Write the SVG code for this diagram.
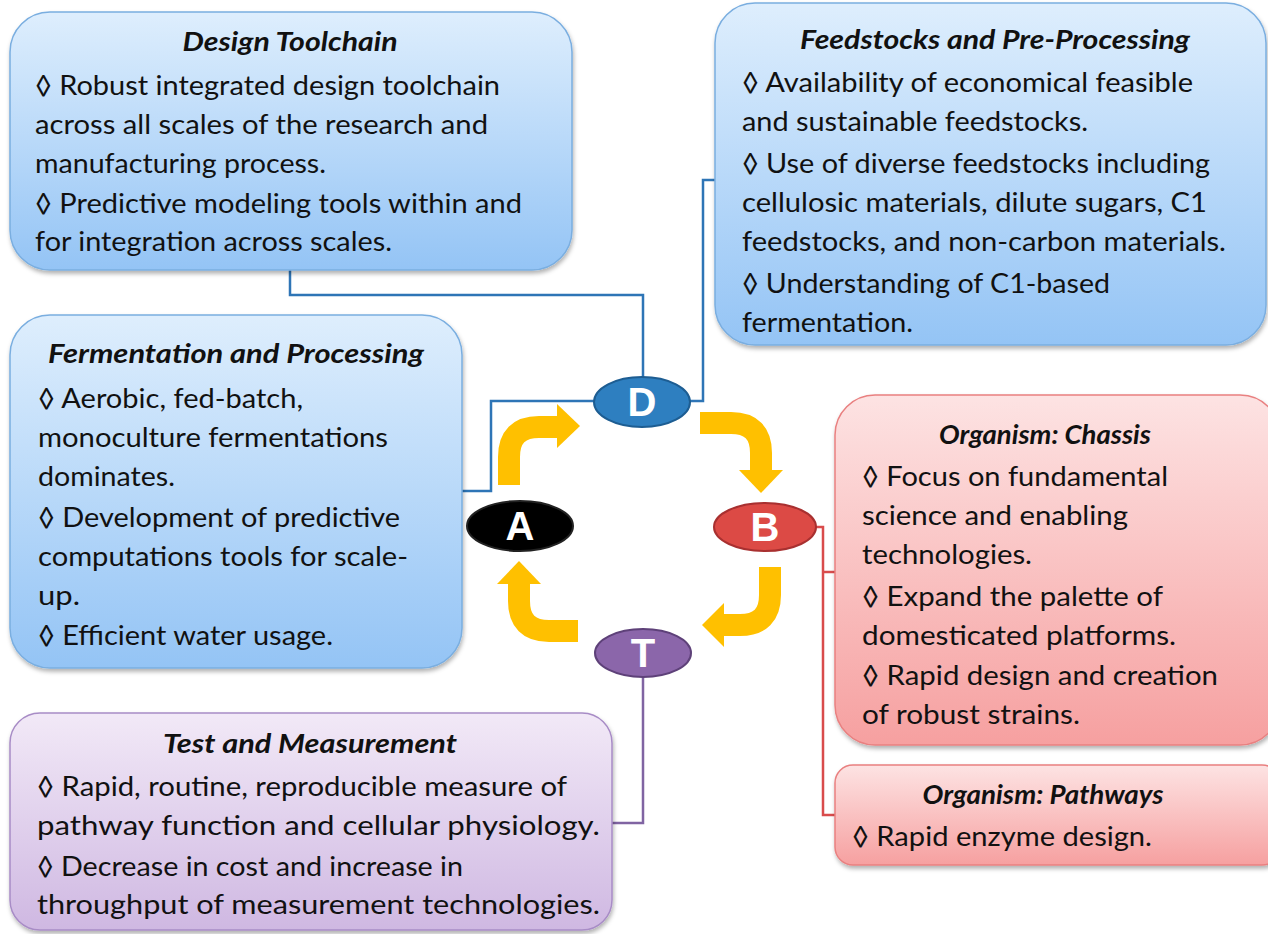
<svg xmlns="http://www.w3.org/2000/svg" width="1268" height="934" viewBox="0 0 1268 934">
<defs>
<linearGradient id="gBlue" x1="0" y1="0" x2="0" y2="1"><stop offset="0" stop-color="#deeefd"/><stop offset="1" stop-color="#94c4f5"/></linearGradient>
<linearGradient id="gRed" x1="0" y1="0" x2="0" y2="1"><stop offset="0" stop-color="#fde3e3"/><stop offset="1" stop-color="#f6a0a0"/></linearGradient>
<linearGradient id="gPurple" x1="0" y1="0" x2="0" y2="1"><stop offset="0" stop-color="#f2e9f7"/><stop offset="1" stop-color="#cfb8e2"/></linearGradient>
<filter id="sh" x="-5%" y="-5%" width="110%" height="115%"><feDropShadow dx="1" dy="3" stdDeviation="2" flood-color="#000" flood-opacity="0.3"/></filter>
</defs>
<style>
.box{stroke-width:1.5;filter:url(#sh)}
.blue{fill:url(#gBlue);stroke:#7aaee0}
.red{fill:url(#gRed);stroke:#e98080}
.purple{fill:url(#gPurple);stroke:#a88cc6}
.t{font-family:Lato,"Liberation Sans",sans-serif;font-size:27px;font-weight:bold;font-style:italic;fill:#111;text-anchor:middle}
.b{font-family:Lato,"Liberation Sans",sans-serif;font-size:26px;fill:#111}
.lbl{font-family:"Liberation Sans",Arial,sans-serif;font-size:40px;font-weight:bold;fill:#fff;text-anchor:middle}
.cb{fill:none;stroke:#2e75b6;stroke-width:2.5}
.cr{fill:none;stroke:#d94c4c;stroke-width:2.5}
.cp{fill:none;stroke:#8064a2;stroke-width:2.5}
.arr{fill:none;stroke:#ffc000;stroke-width:22}
.ah{fill:#ffc000}
</style>
<rect width="1268" height="934" fill="#fff"/>

<g id="connectors">
<path class="cb" d="M290,270 V295 H643 V377"/>
<path class="cb" d="M715,180 H703 V401 H690"/>
<path class="cb" d="M462,491 H491 V401 H595"/>
<path class="cr" d="M816,527 H823 V815 H835 M823,572 H835"/>
<path class="cp" d="M643,677 V823 H612"/>
<path class="arr" d="M509,485 V457 Q509,427 539,427 H558"/>
<polygon class="ah" points="557,404 580,426 557,448"/>
<path class="arr" d="M700,423 H731 Q761,423 761,453 V471"/>
<polygon class="ah" points="739,470 783,470 761,493"/>
<path class="arr" d="M770,567 V595 Q770,625 740,625 H723"/>
<polygon class="ah" points="724,603 702,625 724,647"/>
<path class="arr" d="M578,631 H549 Q519,631 519,601 V583"/>
<polygon class="ah" points="497,584 519,561 541,584"/>
</g>

<g id="node-design-toolchain">
<rect class="box blue" x="10" y="12" width="562" height="258" rx="40"/>
<text class="t" x="290" y="51" textLength="215" lengthAdjust="spacingAndGlyphs">Design Toolchain</text>
<text class="b" x="35" y="95" textLength="465" lengthAdjust="spacingAndGlyphs">◊ Robust integrated design toolchain</text>
<text class="b" x="35" y="134" textLength="453" lengthAdjust="spacingAndGlyphs">across all scales of the research and</text>
<text class="b" x="35" y="173" textLength="291" lengthAdjust="spacingAndGlyphs">manufacturing process.</text>
<text class="b" x="35" y="213" textLength="487" lengthAdjust="spacingAndGlyphs">◊ Predictive modeling tools within and</text>
<text class="b" x="35" y="251" textLength="357" lengthAdjust="spacingAndGlyphs">for integration across scales.</text>
</g>

<g id="node-feedstocks">
<rect class="box blue" x="715" y="3" width="551" height="342" rx="40"/>
<text class="t" x="995" y="49" textLength="390" lengthAdjust="spacingAndGlyphs">Feedstocks and Pre-Processing</text>
<text class="b" x="742" y="92" textLength="451" lengthAdjust="spacingAndGlyphs">◊ Availability of economical feasible</text>
<text class="b" x="742" y="131" textLength="346" lengthAdjust="spacingAndGlyphs">and sustainable feedstocks.</text>
<text class="b" x="742" y="173" textLength="468" lengthAdjust="spacingAndGlyphs">◊ Use of diverse feedstocks including</text>
<text class="b" x="742" y="212" textLength="465" lengthAdjust="spacingAndGlyphs">cellulosic materials, dilute sugars, C1</text>
<text class="b" x="742" y="251" textLength="484" lengthAdjust="spacingAndGlyphs">feedstocks, and non-carbon materials.</text>
<text class="b" x="742" y="293" textLength="368" lengthAdjust="spacingAndGlyphs">◊ Understanding of C1-based</text>
<text class="b" x="742" y="332" textLength="171" lengthAdjust="spacingAndGlyphs">fermentation.</text>
</g>

<g id="node-fermentation">
<rect class="box blue" x="10" y="315" width="452" height="353" rx="40"/>
<text class="t" x="236" y="363" textLength="376" lengthAdjust="spacingAndGlyphs">Fermentation and Processing</text>
<text class="b" x="38" y="408" textLength="265" lengthAdjust="spacingAndGlyphs">◊ Aerobic, fed-batch,</text>
<text class="b" x="38" y="447" textLength="350" lengthAdjust="spacingAndGlyphs">monoculture fermentations</text>
<text class="b" x="38" y="486" textLength="137" lengthAdjust="spacingAndGlyphs">dominates.</text>
<text class="b" x="38" y="527" textLength="362" lengthAdjust="spacingAndGlyphs">◊ Development of predictive</text>
<text class="b" x="38" y="566" textLength="370" lengthAdjust="spacingAndGlyphs">computations tools for scale-</text>
<text class="b" x="38" y="605" textLength="42" lengthAdjust="spacingAndGlyphs">up.</text>
<text class="b" x="38" y="645" textLength="295" lengthAdjust="spacingAndGlyphs">◊ Efficient water usage.</text>
</g>

<g id="node-chassis">
<rect class="box red" x="835" y="395" width="445" height="350" rx="40"/>
<text class="t" x="1045" y="444" textLength="212" lengthAdjust="spacingAndGlyphs">Organism: Chassis</text>
<text class="b" x="862" y="486" textLength="306" lengthAdjust="spacingAndGlyphs">◊ Focus on fundamental</text>
<text class="b" x="862" y="525" textLength="266" lengthAdjust="spacingAndGlyphs">science and enabling</text>
<text class="b" x="862" y="564" textLength="170" lengthAdjust="spacingAndGlyphs">technologies.</text>
<text class="b" x="862" y="606" textLength="301" lengthAdjust="spacingAndGlyphs">◊ Expand the palette of</text>
<text class="b" x="862" y="645" textLength="314" lengthAdjust="spacingAndGlyphs">domesticated platforms.</text>
<text class="b" x="862" y="685" textLength="356" lengthAdjust="spacingAndGlyphs">◊ Rapid design and creation</text>
<text class="b" x="862" y="724" textLength="218" lengthAdjust="spacingAndGlyphs">of robust strains.</text>
</g>

<g id="node-pathways">
<rect class="box red" x="835" y="765" width="445" height="100" rx="18"/>
<text class="t" x="1043" y="804" textLength="241" lengthAdjust="spacingAndGlyphs">Organism: Pathways</text>
<text class="b" x="852" y="846" textLength="300" lengthAdjust="spacingAndGlyphs">◊ Rapid enzyme design.</text>
</g>

<g id="node-test">
<rect class="box purple" x="10" y="713" width="602" height="217" rx="30"/>
<text class="t" x="310" y="753" textLength="294" lengthAdjust="spacingAndGlyphs">Test and Measurement</text>
<text class="b" x="37" y="796" textLength="530" lengthAdjust="spacingAndGlyphs">◊ Rapid, routine, reproducible measure of</text>
<text class="b" x="37" y="835" textLength="563" lengthAdjust="spacingAndGlyphs">pathway function and cellular physiology.</text>
<text class="b" x="37" y="876" textLength="426" lengthAdjust="spacingAndGlyphs">◊ Decrease in cost and increase in</text>
<text class="b" x="37" y="914" textLength="563" lengthAdjust="spacingAndGlyphs">throughput of measurement technologies.</text>
</g>

<g id="node-D">
<ellipse cx="642" cy="402" rx="48" ry="25" fill="#2e7fc0" stroke="#1d5d92" stroke-width="2"/>
<text class="lbl" x="642" y="416">D</text>
</g>
<g id="node-A">
<ellipse cx="520" cy="526" rx="53" ry="25" fill="#000" stroke="#222" stroke-width="2"/>
<text class="lbl" x="520" y="540">A</text>
</g>
<g id="node-B">
<ellipse cx="765" cy="527" rx="51" ry="24" fill="#dc4a45" stroke="#a83030" stroke-width="2"/>
<text class="lbl" x="765" y="541">B</text>
</g>
<g id="node-T">
<ellipse cx="643" cy="653" rx="48" ry="24" fill="#8b66aa" stroke="#5e4179" stroke-width="2"/>
<text class="lbl" x="643" y="667">T</text>
</g>
</svg>
